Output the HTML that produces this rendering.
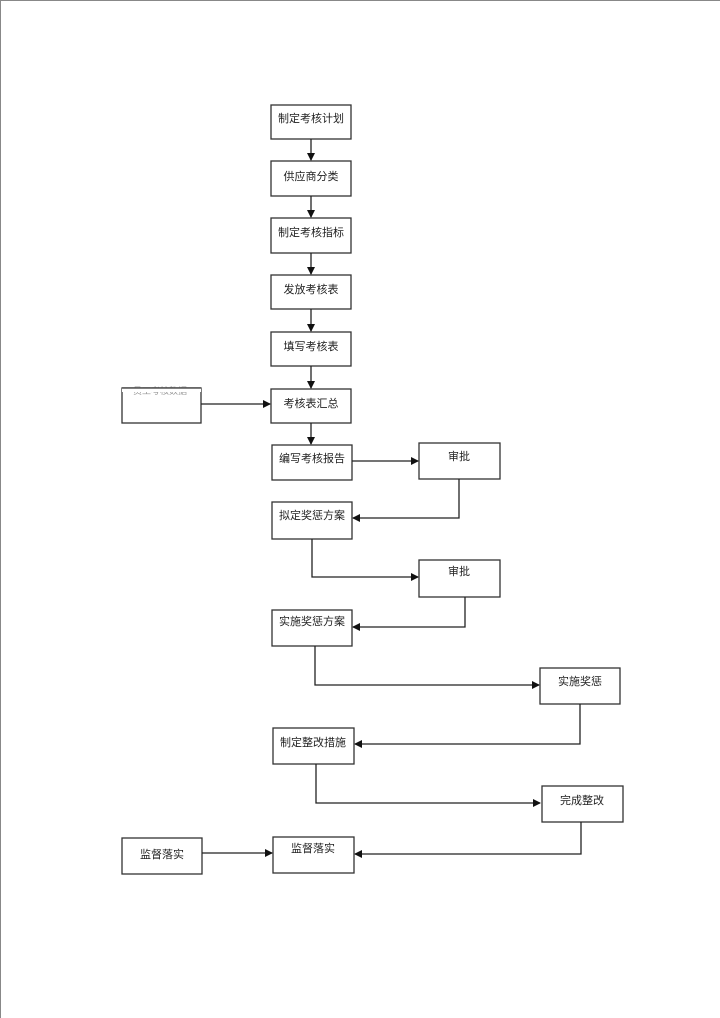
<!DOCTYPE html>
<html><head><meta charset="utf-8"><style>
html,body{margin:0;padding:0;background:#fff;}
svg{display:block;}
text{font-family:"Liberation Sans","Noto Sans CJK SC",sans-serif;font-size:11px;fill:#222;text-anchor:middle;}
rect{fill:#fff;stroke:#333;stroke-width:1.3;}
.l{fill:none;stroke:#222;stroke-width:1.3;}
</style></head><body>
<svg width="720" height="1018" viewBox="0 0 720 1018">
<defs><marker id="a" markerWidth="8" markerHeight="8" refX="7" refY="4" orient="auto" markerUnits="userSpaceOnUse"><path d="M0,0 L8,4 L0,8 z" fill="#111"/></marker></defs>
<line x1="0.5" y1="0" x2="0.5" y2="1018" stroke="#888" stroke-width="1"/>
<line x1="0" y1="0.5" x2="720" y2="0.5" stroke="#888" stroke-width="1"/>

<rect x="271" y="105" width="80" height="34"/><text x="311" y="122">制定考核计划</text>
<rect x="271" y="161" width="80" height="35"/><text x="311" y="180">供应商分类</text>
<rect x="271" y="218" width="80" height="35"/><text x="311" y="236">制定考核指标</text>
<rect x="271" y="275" width="80" height="34"/><text x="311" y="293">发放考核表</text>
<rect x="271" y="332" width="80" height="34"/><text x="311" y="350">填写考核表</text>
<rect x="271" y="389" width="80" height="34"/><text x="311" y="407">考核表汇总</text>
<rect x="122" y="388" width="79" height="35"/>
<text x="160" y="394" style="font-size:9px;fill:#999">员工考核数据</text>
<rect x="122" y="388" width="79" height="4" style="stroke:none"/>
<line x1="122" y1="388" x2="201" y2="388" stroke="#333" stroke-width="1.3"/>

<line class="l" x1="311" y1="139" x2="311" y2="160" marker-end="url(#a)"/>
<line class="l" x1="311" y1="196" x2="311" y2="217" marker-end="url(#a)"/>
<line class="l" x1="311" y1="253" x2="311" y2="274" marker-end="url(#a)"/>
<line class="l" x1="311" y1="309" x2="311" y2="331" marker-end="url(#a)"/>
<line class="l" x1="311" y1="366" x2="311" y2="388" marker-end="url(#a)"/>
<line class="l" x1="201" y1="404" x2="270" y2="404" marker-end="url(#a)"/>
<line class="l" x1="311" y1="423" x2="311" y2="444" marker-end="url(#a)"/>

<rect x="272" y="445" width="80" height="35"/><text x="312" y="462">编写考核报告</text>
<rect x="419" y="443" width="81" height="36"/><text x="459" y="460">审批</text>
<line class="l" x1="352" y1="461" x2="418" y2="461" marker-end="url(#a)"/>
<polyline class="l" points="459,479 459,518 353,518" marker-end="url(#a)"/>

<rect x="272" y="502" width="80" height="37"/><text x="312" y="519">拟定奖惩方案</text>
<polyline class="l" points="312,539 312,577 418,577" marker-end="url(#a)"/>
<rect x="419" y="560" width="81" height="37"/><text x="459" y="575">审批</text>
<polyline class="l" points="465,597 465,627 353,627" marker-end="url(#a)"/>

<rect x="272" y="610" width="80" height="36"/><text x="312" y="625">实施奖惩方案</text>
<polyline class="l" points="315,646 315,685 539,685" marker-end="url(#a)"/>
<rect x="540" y="668" width="80" height="36"/><text x="580" y="685">实施奖惩</text>
<polyline class="l" points="580,704 580,744 355,744" marker-end="url(#a)"/>

<rect x="273" y="728" width="81" height="36"/><text x="313" y="746">制定整改措施</text>
<polyline class="l" points="316,764 316,803 540,803" marker-end="url(#a)"/>
<rect x="542" y="786" width="81" height="36"/><text x="582" y="804">完成整改</text>
<polyline class="l" points="581,822 581,854 355,854" marker-end="url(#a)"/>

<rect x="273" y="837" width="81" height="36"/><text x="313" y="852">监督落实</text>
<rect x="122" y="838" width="80" height="36"/><text x="162" y="858">监督落实</text>
<line class="l" x1="202" y1="853" x2="272" y2="853" marker-end="url(#a)"/>
</svg>
</body></html>
